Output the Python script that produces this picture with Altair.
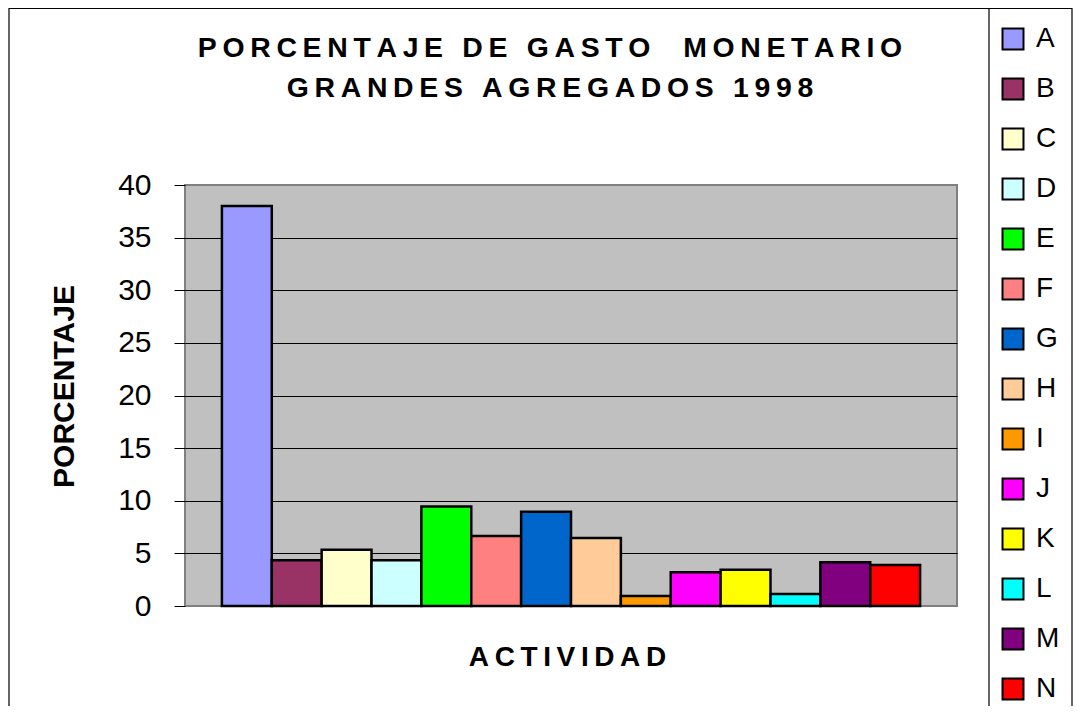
import altair as alt
import pandas as pd

categories = ["A", "B", "C", "D", "E", "F", "G", "H", "I", "J", "K", "L", "M", "N"]
values = [38.0, 4.35, 5.35, 4.35, 9.45, 6.65, 8.95, 6.45, 0.95, 3.2, 3.45, 1.15, 4.15, 3.9]
colors = ["#9999FF", "#993366", "#FFFFCC", "#CCFFFF", "#00FF00", "#FF8080", "#0066CC",
          "#FFCC99", "#FF9900", "#FF00FF", "#FFFF00", "#00FFFF", "#800080", "#FF0000"]
y_ticks = [0, 5, 10, 15, 20, 25, 30, 35, 40]

title_lines = ["PORCENTAJE DE GASTO  MONETARIO", "GRANDES AGREGADOS 1998"]
y_title = "PORCENTAJE"
x_title = "ACTIVIDAD"

SP = "\u2009"
def spaced(s):
    return SP.join(list(s))

FONT = "Liberation Sans"

df = pd.DataFrame({"actividad": categories, "porcentaje": values})
one = pd.DataFrame({"k": [0]})

W, H = 772, 421

bars = alt.Chart(df).mark_bar(stroke="black", strokeWidth=2.5).encode(
    x=alt.X("actividad:N", sort=categories,
            scale=alt.Scale(paddingInner=0, paddingOuter=0.74),
            axis=alt.Axis(labels=False, ticks=False, domain=False, title=spaced(x_title),
                          titleFont=FONT, titleFontSize=28, titleFontWeight="bold",
                          titleColor="black", titleX=382, titleY=51,
                          titleAlign="center", titleBaseline="middle")),
    y=alt.Y("porcentaje:Q", scale=alt.Scale(domain=[0, 40], nice=False),
            axis=alt.Axis(values=y_ticks, title=y_title, titleFont=FONT, titleFontSize=30,
                          titleFontWeight="bold", titleColor="black", titleAngle=270,
                          titleX=-121, titleY=201, titleAlign="center", titleBaseline="middle",
                          labelFont=FONT, labelFontSize=30, labelColor="black",
                          labelPadding=23, tickSize=11, tickColor="black", tickWidth=1,
                          domain=False,
                          gridColor={"condition": {"test": "datum.value === 0 || datum.value === 40",
                                                   "value": "#808080"}, "value": "black"},
                          gridWidth=1, gridOpacity=1)),
    color=alt.Color("actividad:N", sort=categories,
                    scale=alt.Scale(domain=categories, range=colors),
                    legend=alt.Legend(title=None, orient="none", legendX=814, legendY=-160,
                                      padding=0, symbolType="square", symbolSize=440,
                                      symbolStrokeColor="black", symbolStrokeWidth=2,
                                      symbolOpacity=1, labelFont=FONT, labelFontSize=28,
                                      labelColor="black", labelOffset=9, rowPadding=20)),
)

frame = alt.Chart(one).mark_rect(filled=False, stroke="black", strokeWidth=1.2).encode(
    x=alt.value(-176), x2=alt.value(887), y=alt.value(-176.5), y2=alt.value(560)
)

divider = alt.Chart(one).mark_rule(stroke="black", strokeWidth=1.2).encode(
    x=alt.value(804), y=alt.value(-177), y2=alt.value(560)
)

chart = alt.layer(bars, frame, divider).properties(
    width=W, height=H,
    title=alt.TitleParams(text=[spaced(t) for t in title_lines], font=FONT, fontSize=28.4,
                          fontWeight="bold", color="black", anchor="middle", dx=-21,
                          lineHeight=40, offset=0, dy=118, baseline="alphabetic"),
    autosize=alt.AutoSizeParams(type="none"),
    padding={"left": 177, "top": 177, "right": 116, "bottom": 100},
).configure(background="white").configure_view(fill="#C0C0C0", stroke="#808080", strokeWidth=2)

chart.save("out.html", embed_options={"renderer": "svg", "actions": False})
